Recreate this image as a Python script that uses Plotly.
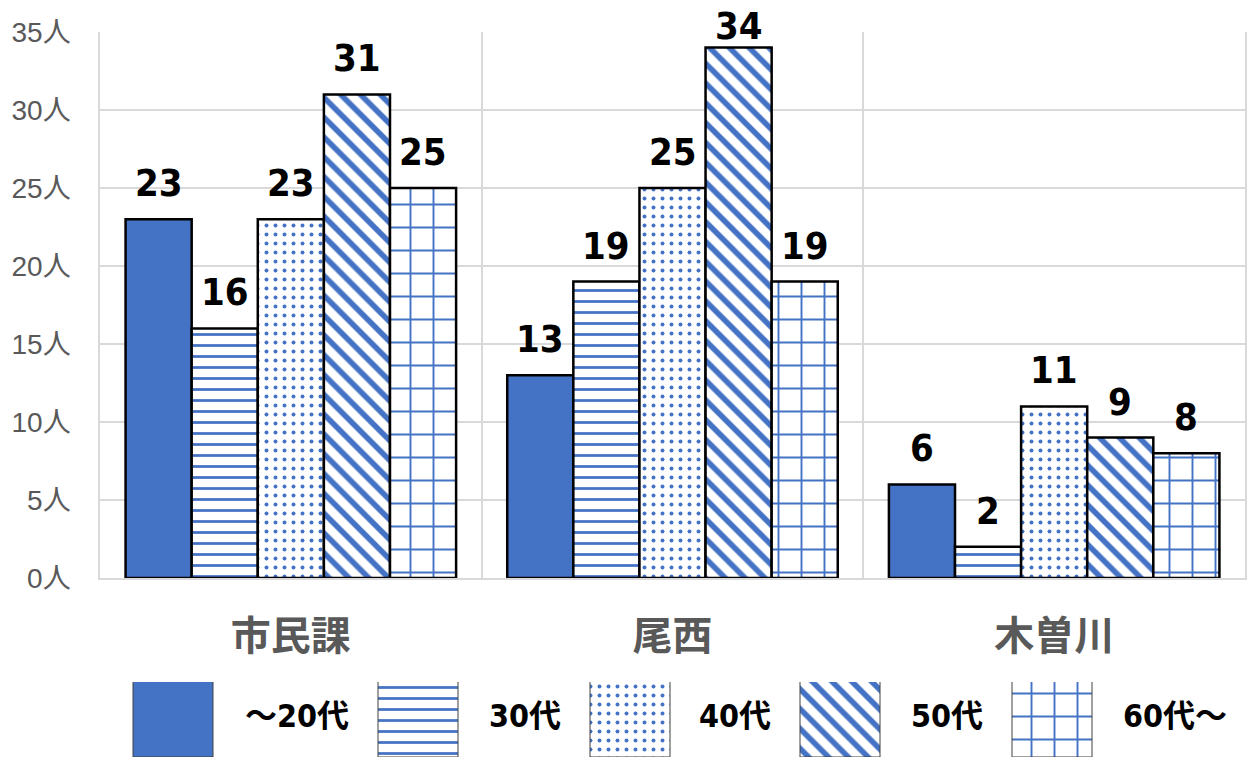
import plotly.graph_objects as go

# ---- data ----
offices = ["市民課", "尾西", "木曽川"]
age_groups = ["～20代", "30代", "40代", "50代", "60代～"]
counts = {
    "～20代": [23, 13, 6],
    "30代": [16, 19, 2],
    "40代": [23, 25, 11],
    "50代": [31, 34, 9],
    "60代～": [25, 19, 8],
}
y_ticks = [0, 5, 10, 15, 20, 25, 30, 35]
y_tick_text = [f"{v}人" for v in y_ticks]

# ---- styling ----
BLUE = "#4472C4"
GRID = "#d9d9d9"
TICK_GRAY = "#595959"
NUM_FONT = "DejaVu Sans Condensed, Noto Sans CJK JP, sans-serif"
CJK_FONT = "Noto Sans CJK JP, sans-serif"

patterns = {
    "～20代": None,
    "30代": dict(shape="-", size=11, solidity=0.25),
    "40代": dict(shape=".", size=9, solidity=0.15),
    "50代": dict(shape="\\", size=14, solidity=0.4),
    "60代～": dict(shape="+", size=23, solidity=0.16),
}

W, H = 1247, 757
M_L, M_R, M_T, M_B = 100, 2, 32, 0
plot_h = H - M_T - M_B
main_bottom_px = 179          # space below the bar area (axis labels + legend)
legend_h_px = 75
BARGAP = 0.134
Y_MAX = 35

# legend layout (page x positions of swatches and their labels)
legend_swatch_left = [133, 378, 590, 800, 1012]
legend_swatch_w = 80
legend_text_left = [243, 487, 697, 909, 1121]


def bar_marker(group, line_color, line_width):
    pat = patterns[group]
    marker = dict(line=dict(color=line_color, width=line_width))
    if pat is None:
        marker["color"] = BLUE
    else:
        marker["color"] = "white"
        marker["pattern"] = dict(pat, fgcolor=BLUE, bgcolor="white",
                                 fgopacity=1, fillmode="replace")
    return marker


fig = go.Figure()

for g in age_groups:
    fig.add_trace(go.Bar(
        x=offices, y=counts[g], name=g, marker=bar_marker(g, "black", 2.5),
        showlegend=False, hoverinfo="skip",
        xaxis="x", yaxis="y",
    ))

# value labels above each bar
main_h_px = plot_h - main_bottom_px
px_per_unit = main_h_px / Y_MAX
bar_w = (1 - BARGAP) / len(age_groups)
annotations = []
for j, g in enumerate(age_groups):
    for i, v in enumerate(counts[g]):
        top_px = M_T + (Y_MAX - v) * px_per_unit
        shift = min(36, top_px - 26)
        annotations.append(dict(
            x=i - (1 - BARGAP) / 2 + bar_w * (j + 0.5), y=v,
            xref="x", yref="y", text=str(v), showarrow=False,
            yanchor="middle", yshift=shift,
            font=dict(family=NUM_FONT, size=38, color="black", weight="bold"),
        ))

# custom legend drawn on its own axes below the chart
for j, g in enumerate(age_groups):
    fig.add_trace(go.Bar(
        x=[legend_swatch_left[j] + legend_swatch_w / 2], y=[1.2],
        width=[legend_swatch_w], marker=bar_marker(g, "#404040", 1),
        showlegend=False, hoverinfo="skip",
        xaxis="x2", yaxis="y2",
    ))
    annotations.append(dict(
        x=legend_text_left[j], y=0.55, xref="x2", yref="y2",
        text=g, showarrow=False, xanchor="left", yanchor="middle",
        font=dict(family=NUM_FONT, size=32, color="black", weight="bold"),
    ))

fig.update_layout(
    width=W, height=H, autosize=False,
    margin=dict(l=M_L, r=M_R, t=M_T, b=M_B, autoexpand=False),
    paper_bgcolor="white", plot_bgcolor="white",
    barmode="group", bargap=BARGAP, bargroupgap=0,
    annotations=annotations,
    xaxis=dict(
        type="category", domain=[0, 1], anchor="y", automargin=False,
        tickson="boundaries", showgrid=True, gridcolor=GRID, gridwidth=1.5,
        showline=True, linecolor=GRID, linewidth=1.5,
        ticks="", ticklabelstandoff=22,
        tickfont=dict(family=CJK_FONT, size=40, color=TICK_GRAY, weight="bold"),
    ),
    yaxis=dict(
        domain=[main_bottom_px / plot_h, 1], anchor="x", automargin=False,
        range=[0, Y_MAX], tickvals=y_ticks, ticktext=y_tick_text,
        showgrid=True, gridcolor=GRID, gridwidth=1.5, zeroline=False,
        showline=True, linecolor=GRID, linewidth=1.5, mirror=True,
        ticks="", ticklabelstandoff=22,
        tickfont=dict(family="Liberation Sans, Noto Sans CJK JP, sans-serif",
                      size=28, color=TICK_GRAY),
    ),
    xaxis2=dict(domain=[0, 1], anchor="y2", range=[M_L, W - M_R],
                visible=False, fixedrange=True),
    yaxis2=dict(domain=[0, legend_h_px / plot_h], anchor="x2", range=[0, 1],
                visible=False, fixedrange=True),
)

fig.write_html("out.html")
